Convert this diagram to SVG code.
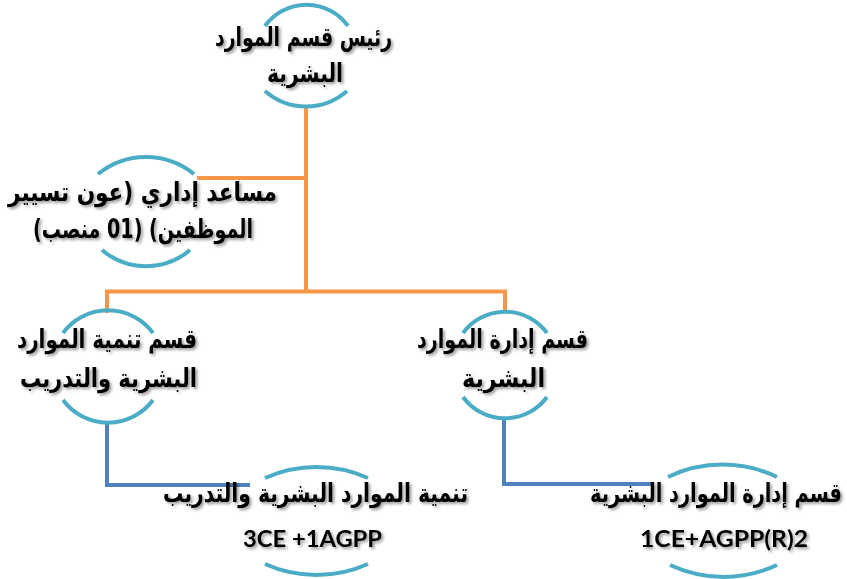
<svg xmlns="http://www.w3.org/2000/svg" width="847" height="579" viewBox="0 0 847 579">
<defs>
<style>
.ar{font-family:"DejaVu Sans",sans-serif;font-weight:bold;font-size:26px;fill:#000;direction:rtl;text-anchor:middle;filter:url(#sh)}
.la{font-family:Lato,"Liberation Sans",sans-serif;font-weight:bold;font-size:23px;fill:#000;text-anchor:middle;filter:url(#sh)}
.arc{fill:none;stroke:#4BACC6;stroke-width:4}
.or{fill:none;stroke:#F79646;stroke-width:4}
.bl{fill:none;stroke:#4F81BD;stroke-width:4}
</style>
<filter id="sh" x="-3%" y="-30%" width="106%" height="160%">
<feDropShadow dx="2" dy="2" stdDeviation="1.8" flood-color="#000" flood-opacity="0.4"/>
</filter>
</defs>
<rect width="847" height="579" fill="#fff"/>
<g id="connectors">
<path class="or" d="M306 106 V292 M197 178 H306 M107 313 V291.5 H505 V313"/>
<path class="bl" d="M107 422 V485 H250 M504 417 V484 H652"/>
</g>
<g id="n-head">
<path class="arc" d="M265 26 A51 51 0 0 1 348 26"/>
<path class="arc" d="M265 91 A62 62 0 0 0 347 91"/>
<text class="ar" x="303.5" y="46" textLength="177" lengthAdjust="spacingAndGlyphs">رئيس قسم الموارد</text>
<text class="ar" x="305" y="82" textLength="76" lengthAdjust="spacingAndGlyphs">البشرية</text>
</g>
<g id="n-assistant">
<path class="arc" d="M98 174 A76 76 0 0 1 194 174"/>
<path class="arc" d="M102 250 A68 68 0 0 0 190 250"/>
<text class="ar" x="142.5" y="201" textLength="269" lengthAdjust="spacingAndGlyphs">مساعد إداري (عون تسيير</text>
<text class="ar" x="143" y="238" textLength="220" lengthAdjust="spacingAndGlyphs">الموظفين) (01 منصب)</text>
</g>
<g id="n-dev">
<path class="arc" d="M63 333 A56 56 0 0 1 153 333"/>
<path class="arc" d="M63 400 A56 56 0 0 0 153 400"/>
<text class="ar" x="107" y="348" textLength="180" lengthAdjust="spacingAndGlyphs">قسم تنمية الموارد</text>
<text class="ar" x="108.5" y="387" textLength="177" lengthAdjust="spacingAndGlyphs">البشرية والتدريب</text>
</g>
<g id="n-admin">
<path class="arc" d="M463 333 A52 52 0 0 1 547 333"/>
<path class="arc" d="M463 397 A52 52 0 0 0 547 397"/>
<text class="ar" x="502.5" y="348" textLength="171" lengthAdjust="spacingAndGlyphs">قسم إدارة الموارد</text>
<text class="ar" x="503.5" y="387" textLength="83" lengthAdjust="spacingAndGlyphs">البشرية</text>
</g>
<g id="n-dev-unit">
<path class="arc" d="M265 478 A126 126 0 0 1 368 478"/>
<path class="arc" d="M265 564 A126 126 0 0 0 368 564"/>
<text class="ar" x="315.5" y="502" textLength="305" lengthAdjust="spacingAndGlyphs">تنمية الموارد البشرية والتدريب</text>
<text class="la" x="312.5" y="547" textLength="139" lengthAdjust="spacingAndGlyphs">3CE +1AGPP</text>
</g>
<g id="n-admin-unit">
<path class="arc" d="M668 477 A126 126 0 0 1 777 477"/>
<path class="arc" d="M670 565 A126 126 0 0 0 777 565"/>
<text class="ar" x="716" y="502" textLength="252" lengthAdjust="spacingAndGlyphs">قسم إدارة الموارد البشرية</text>
<text class="la" x="724" y="547" textLength="168" lengthAdjust="spacingAndGlyphs">1CE+AGPP(R)2</text>
</g>
</svg>
